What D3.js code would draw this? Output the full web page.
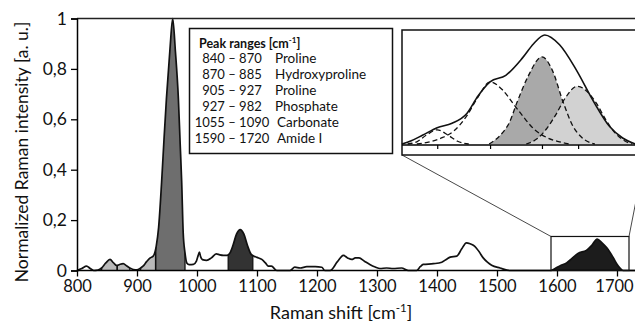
<!DOCTYPE html>
<html>
<head>
<meta charset="utf-8">
<script src="https://cdn.jsdelivr.net/npm/d3@7"></script>
<style>
  body { margin: 0; background: #fff; }
  svg text { font-family: Lato, "Open Sans", sans-serif; fill: #111; }
</style>
</head>
<body>
<div id="chart"></div>
<script>
// main spectrum [Raman shift, normalized intensity]
var spectrum = [
  [800,0],[808,0.008],[816,0.017],[822,0.008],[828,0],[835,0.002],[841,0.01],[848,0.03],[855,0.044],
  [861,0.03],[866,0.02],[871,0.024],[877,0.027],[883,0.018],[888,0.01],[894,0.004],[900,0.003],
  [905,0.008],[910,0.017],[916,0.035],[922,0.05],[927,0.057],[932,0.096],[936,0.17],[941,0.35],
  [945,0.52],[949,0.68],[955,0.88],[959.5,1.0],[964,0.87],[969,0.68],[972,0.5],[974.5,0.35],
  [977,0.15],[980,0.07],[983,0.03],[987,0.023],[994,0.024],[999,0.037],[1002,0.06],[1004,0.073],
  [1006,0.055],[1009,0.043],[1016,0.04],[1024,0.05],[1032,0.066],[1038,0.062],[1044,0.06],
  [1050,0.06],[1055,0.07],[1060,0.1],[1066,0.145],[1072,0.162],[1078,0.145],[1084,0.1],[1090,0.065],
  [1095,0.057],[1100,0.052],[1108,0.044],[1114,0.03],[1119,0.017],[1124,0.017],[1133,0],[1155,0],
  [1163,0.013],[1172,0.01],[1183,0.015],[1197,0.015],[1208,0.013],[1213,0],[1222,0],[1234,0.035],
  [1244,0.06],[1251,0.05],[1258,0.044],[1264,0.05],[1270,0.05],[1279,0.037],[1288,0.024],
  [1297,0.014],[1305,0.008],[1316,0.01],[1327,0.008],[1341,0.01],[1352,0],[1366,0],[1372,0.015],
  [1377,0.024],[1394,0.027],[1408,0.033],[1416,0.045],[1422,0.053],[1433,0.057],[1441,0.085],
  [1449,0.11],[1456,0.105],[1463,0.096],[1470,0.075],[1477,0.05],[1484,0.033],[1491,0.021],
  [1505,0.01],[1522,0],[1590,0],[1597,0.008],[1606,0.02],[1616,0.03],[1625,0.048],[1635,0.068],
  [1649,0.08],[1658,0.1],[1667,0.125],[1675,0.11],[1683,0.09],[1694,0.05],[1700,0.025],[1705,0.01],
  [1710,0],[1730,0]
];

// shaded bands as drawn [from, to, fill]
var bands = [
  [841, 867, "#b9b9b9"],
  [867, 888, "#b9b9b9"],
  [906, 931, "#b9b9b9"],
  [931, 980, "#6e6e6e"],
  [1052, 1093, "#333333"],
  [1590, 1720, "#1c1c1c"]
];

var legendRanges = ["840 \u2013 870", "870 \u2013 885", "905 \u2013 927", "927 \u2013 982", "1055 \u2013 1090", "1590 \u2013 1720"];
var legendNames = ["Proline", "Hydroxyproline", "Proline", "Phosphate", "Carbonate", "Amide I"];

var xTicks = [800, 900, 1000, 1100, 1200, 1300, 1400, 1500, 1600, 1700];
var yTicks = [0, 0.2, 0.4, 0.6, 0.8, 1];

// inset: Amide I band and its fitted components
var amideSum = [
  [1590,0],[1595,0.03],[1601,0.08],[1609,0.15],[1617,0.19],[1625,0.28],[1631,0.44],[1637.5,0.57],
  [1646,0.63],[1655,0.79],[1661,0.92],[1667,1.0],[1675,0.91],[1684,0.68],[1693,0.4],[1702,0.16],
  [1709,0.055],[1716,0]
];
var comp1609 = [[1593,0],[1598,0.02],[1603,0.08],[1609,0.13],[1615,0.08],[1620,0.025],[1626,0]];
var comp1637 = [[1598,0],[1605,0.02],[1612,0.06],[1618,0.12],[1625,0.26],[1631,0.43],[1637.5,0.57],
  [1644,0.5],[1650,0.37],[1655,0.26],[1661,0.14],[1668,0.06],[1675,0.02],[1680,0]];
var comp1665 = [[1637,0],[1643,0.08],[1648,0.2],[1652,0.38],[1658,0.62],[1665.5,0.8],[1671,0.68],
  [1677,0.38],[1682,0.17],[1687,0.06],[1694,0]];
var comp1685 = [[1657,0],[1663,0.05],[1668,0.14],[1673,0.27],[1678,0.42],[1684.5,0.53],[1690,0.48],
  [1695,0.37],[1700,0.22],[1705,0.1],[1710,0.03],[1714,0]];
var insetTicks = [1609, 1637.5, 1665.5, 1685];

var W = 635, H = 323;
var svg = d3.select("#chart").append("svg").attr("width", W).attr("height", H);

var x = d3.scaleLinear().domain([800, 1730]).range([77, 635]);
var y = d3.scaleLinear().domain([0, 1]).range([270.5, 18.5]);

var line = d3.line().x(d => x(d[0])).y(d => y(d[1])).curve(d3.curveMonotoneX);
var area = d3.area().x(d => x(d[0])).y0(y(0)).y1(d => y(d[1])).curve(d3.curveMonotoneX);

var defs = svg.append("defs");
defs.append("clipPath").attr("id", "under").append("path").attr("d", area(spectrum));

// bands
bands.forEach((b, i) => {
  defs.append("clipPath").attr("id", "band" + i)
    .append("rect").attr("x", x(b[0])).attr("y", 0).attr("width", x(b[1]) - x(b[0])).attr("height", H);
  svg.append("path").attr("d", area(spectrum)).attr("fill", b[2])
    .attr("clip-path", "url(#band" + i + ")");
});

// band edges, cut at the curve
var edges = svg.append("g").attr("clip-path", "url(#under)");
bands.slice(0, 5).forEach(b => {
  [b[0], b[1]].forEach(v => {
    edges.append("line").attr("x1", x(v)).attr("x2", x(v)).attr("y1", y(0)).attr("y2", y(1))
      .attr("stroke", "#111").attr("stroke-width", 1.3);
  });
});

svg.append("path").attr("d", line(spectrum)).attr("fill", "none")
  .attr("stroke", "#111").attr("stroke-width", 1.7).attr("stroke-linejoin", "round");

// frame and axes
svg.append("line").attr("x1", x(800)).attr("x2", 640).attr("y1", y(1)).attr("y2", y(1))
  .attr("stroke", "#222").attr("stroke-width", 1.5);

var xAxis = svg.append("g").attr("transform", "translate(0," + y(0) + ")")
  .call(d3.axisBottom(x).tickValues(xTicks).tickSize(6).tickPadding(4).tickFormat(d3.format("d")));
xAxis.select(".domain").attr("d", "M" + x(800) + ",0H640").attr("stroke-width", 1.5);
xAxis.selectAll(".tick line").attr("stroke-width", 1.3);
xAxis.selectAll("text").attr("font-size", 16.5).attr("font-family", "Lato")
  .attr("dx", d => d === 1700 ? -3 : 0);

var yAxis = svg.append("g").attr("transform", "translate(" + x(800) + ",0)")
  .call(d3.axisLeft(y).tickValues(yTicks).tickSize(6).tickPadding(4)
    .tickFormat(d => d === 0 || d === 1 ? String(d) : String(d).replace(".", ",")));
yAxis.select(".domain").attr("stroke-width", 1.5);
yAxis.selectAll(".tick line").attr("stroke-width", 1.3);
yAxis.selectAll("text").attr("font-size", 17.5).attr("font-family", "Lato");

svg.append("text").attr("transform", "translate(28,152) rotate(-90)").attr("text-anchor", "middle")
  .attr("font-size", 17.5).text("Normalized Raman intensity [a. u.]");

var xl = svg.append("text").attr("x", 341).attr("y", 319).attr("text-anchor", "middle").attr("font-size", 18);
xl.append("tspan").text("Raman shift [cm");
xl.append("tspan").attr("font-size", 11.5).attr("dy", -7).text("-1");
xl.append("tspan").attr("dy", 7).text("]");

// legend box
var lg = svg.append("g");
lg.append("rect").attr("x", 189.5).attr("y", 28.5).attr("width", 203).attr("height", 125)
  .attr("fill", "#fff").attr("stroke", "#111").attr("stroke-width", 1.5);
var hd = lg.append("text").attr("x", 199).attr("y", 48).attr("font-size", 12.5).attr("font-weight", "bold");
hd.append("tspan").text("Peak ranges [cm");
hd.append("tspan").attr("font-size", 8).attr("dy", -5).text("-1");
hd.append("tspan").attr("dy", 5).text("]");
legendRanges.forEach((r, i) => {
  lg.append("text").attr("x", 232).attr("y", 63 + i * 16).attr("text-anchor", "middle")
    .attr("font-size", 13).text(r);
  lg.append("text").attr("x", i > 3 ? 277 : 275).attr("y", 63 + i * 16).attr("font-size", 13.5).text(legendNames[i]);
});

// zoom window and connectors
var zx0 = x(1590), zx1 = x(1720), zy = y(0.135);
svg.append("rect").attr("x", zx0).attr("y", zy).attr("width", zx1 - zx0).attr("height", y(0) - zy)
  .attr("fill", "none").attr("stroke", "#111").attr("stroke-width", 1.2);

var ix0 = 402, ix1 = 645, iy0 = 30, iy1 = 155;
svg.append("line").attr("x1", ix0).attr("y1", iy1).attr("x2", zx0).attr("y2", zy).attr("stroke", "#333").attr("stroke-width", 0.9);
svg.append("line").attr("x1", ix1).attr("y1", iy1).attr("x2", zx1).attr("y2", zy).attr("stroke", "#333").attr("stroke-width", 0.9);

// inset
var ins = svg.append("g");
ins.append("rect").attr("x", ix0).attr("y", iy0).attr("width", ix1 - ix0).attr("height", iy1 - iy0)
  .attr("fill", "#fff").attr("stroke", "#111").attr("stroke-width", 1.5);
var ixs = d3.scaleLinear().domain([1590, 1720]).range([ix0, 643]);
var iys = d3.scaleLinear().domain([0, 1]).range([144, 35]);
var iline = d3.line().x(d => ixs(d[0])).y(d => iys(d[1])).curve(d3.curveMonotoneX);
var iarea = d3.area().x(d => ixs(d[0])).y0(iys(0)).y1(d => iys(d[1])).curve(d3.curveMonotoneX);

ins.append("path").attr("d", iarea(comp1665)).attr("fill", "#a9a9a9");
ins.append("path").attr("d", iarea(comp1685)).attr("fill", "#d2d2d2");
[comp1609, comp1637, comp1665, comp1685].forEach(c => {
  ins.append("path").attr("d", iline(c)).attr("fill", "none").attr("stroke", "#111")
    .attr("stroke-width", 1.3).attr("stroke-dasharray", "5,3");
});
ins.append("path").attr("d", iline(amideSum)).attr("fill", "none").attr("stroke", "#111").attr("stroke-width", 1.6);

var iax = ins.append("g").attr("transform", "translate(0,145)")
  .call(d3.axisBottom(ixs).tickValues(insetTicks).tickSize(4).tickFormat(""));
iax.select(".domain").attr("d", "M" + ix0 + ",0H" + ix1).attr("stroke-width", 1.5);
iax.selectAll(".tick line").attr("stroke-width", 1.2);
</script>
</body>
</html>
